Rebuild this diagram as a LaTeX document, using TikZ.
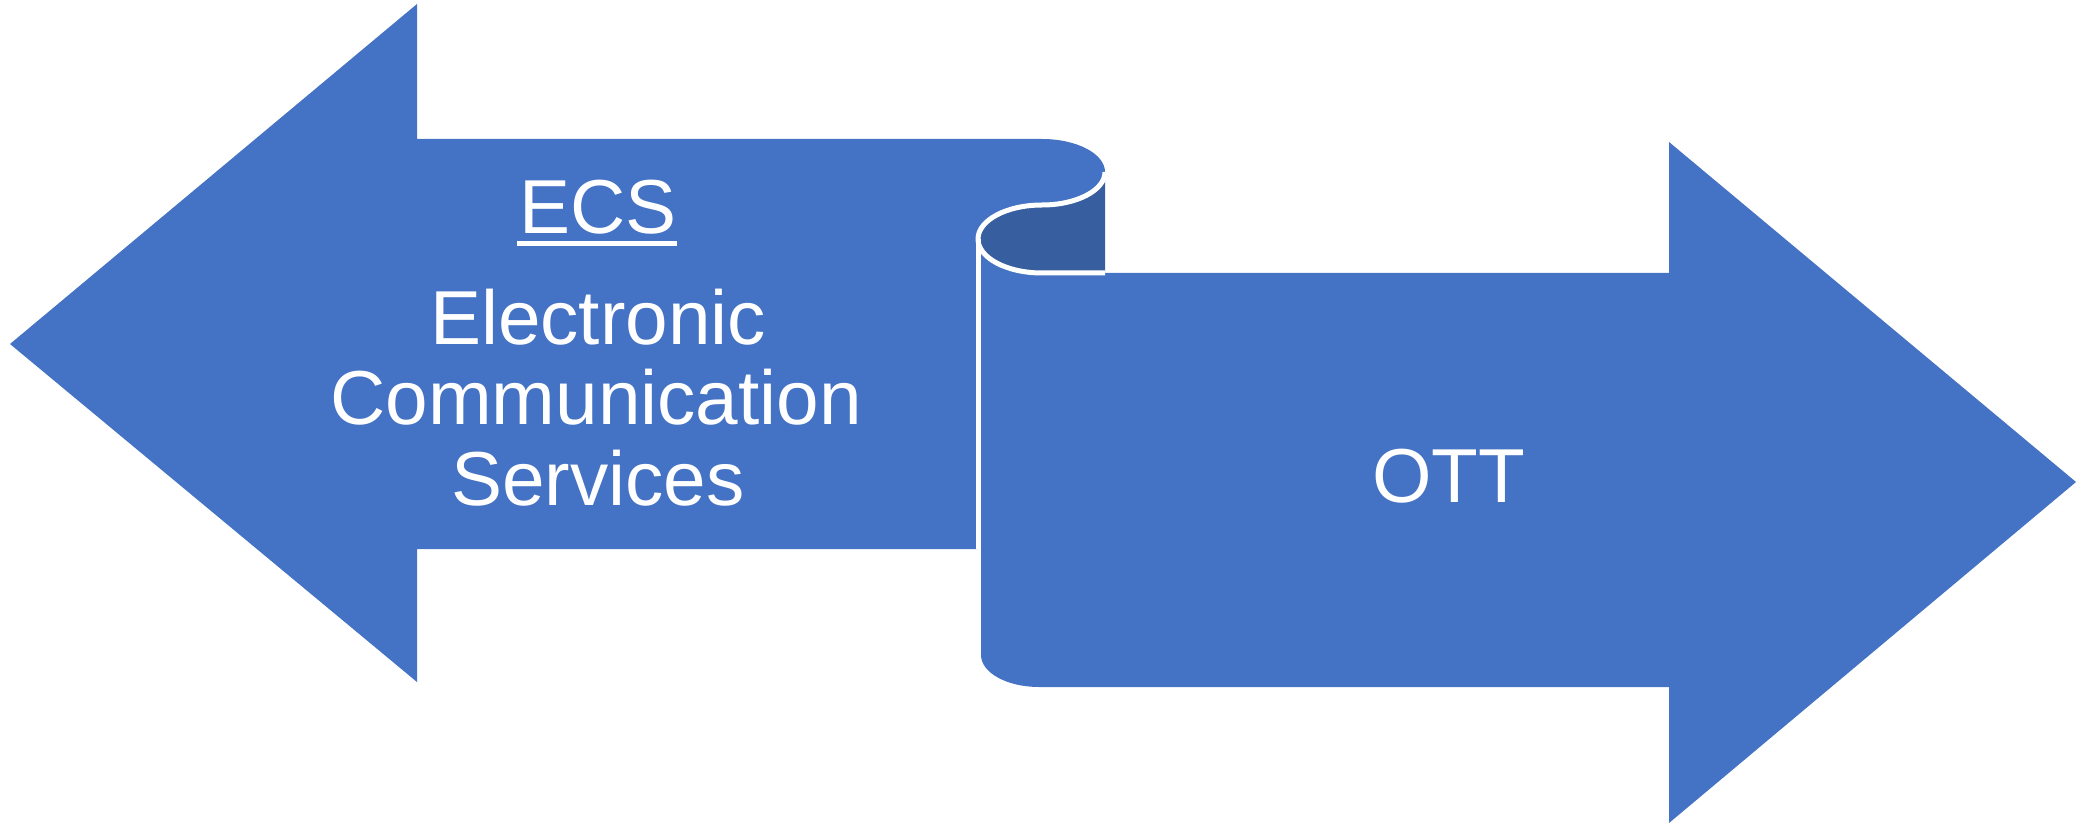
\documentclass[tikz,border=0pt]{standalone}
\usepackage{fontspec}
\setmainfont{Liberation Sans}
\definecolor{ablue}{HTML}{4472C4}
\definecolor{adark}{HTML}{375E9F}
\tikzset{
  shapefill/.style={fill=ablue, draw=none},
  darkfill/.style={fill=adark, draw=none},
  seam/.style={draw=white, line width=5pt},
  lbl/.style={text=white, inner sep=0pt, anchor=base, font=\fontsize{76.5pt}{80pt}\selectfont}
}
\begin{document}
\begin{tikzpicture}[x=1pt,y=1pt]
\useasboundingbox (0,0) rectangle (2079,823);
% left arrow (ECS) with scroll top
\path[shapefill] (10,479) -- (417,819) -- (417,684) -- (1042,684)
  arc[start angle=90, end angle=-90, x radius=63pt, y radius=33pt]
  arc[start angle=90, end angle=180, x radius=64pt, y radius=34pt]
  -- (978,274) -- (417,274) -- (417,141) -- cycle;
% dark inner curl
\path[darkfill] (1105,651) -- (1105,550) -- (1042,550)
  arc[start angle=270, end angle=90, x radius=64pt, y radius=34pt]
  arc[start angle=-90, end angle=0, x radius=63pt, y radius=33pt] -- cycle;
% right arrow (OTT)
\path[shapefill] (981,584) -- (981,168)
  arc[start angle=180, end angle=270, x radius=58pt, y radius=32pt]
  -- (1669,136) -- (1669,0) -- (2076,341) -- (1669,681) -- (1669,550) -- (1042,550)
  arc[start angle=270, end angle=180, x radius=64pt, y radius=34pt] -- cycle;
% white seams
\draw[seam] (1105,651)
  arc[start angle=0, end angle=-90, x radius=63pt, y radius=33pt]
  arc[start angle=90, end angle=270, x radius=64pt, y radius=34pt]
  -- (1105,550);
\draw[seam] (978,584) -- (978,274);
% texts
\node[lbl] (ecs) at (598,589.4) {ECS};
\draw[draw=white, line width=5pt] (517,579) -- (677,579);
\node[lbl] (e1) at (598,478) {Electronic};
\node[lbl] (e2) at (596,399) {Communication};
\node[lbl] (e3) at (598,317.5) {Services};
\node[lbl] (ott) at (1448.5,320.5) {OTT};
\end{tikzpicture}
\end{document}
